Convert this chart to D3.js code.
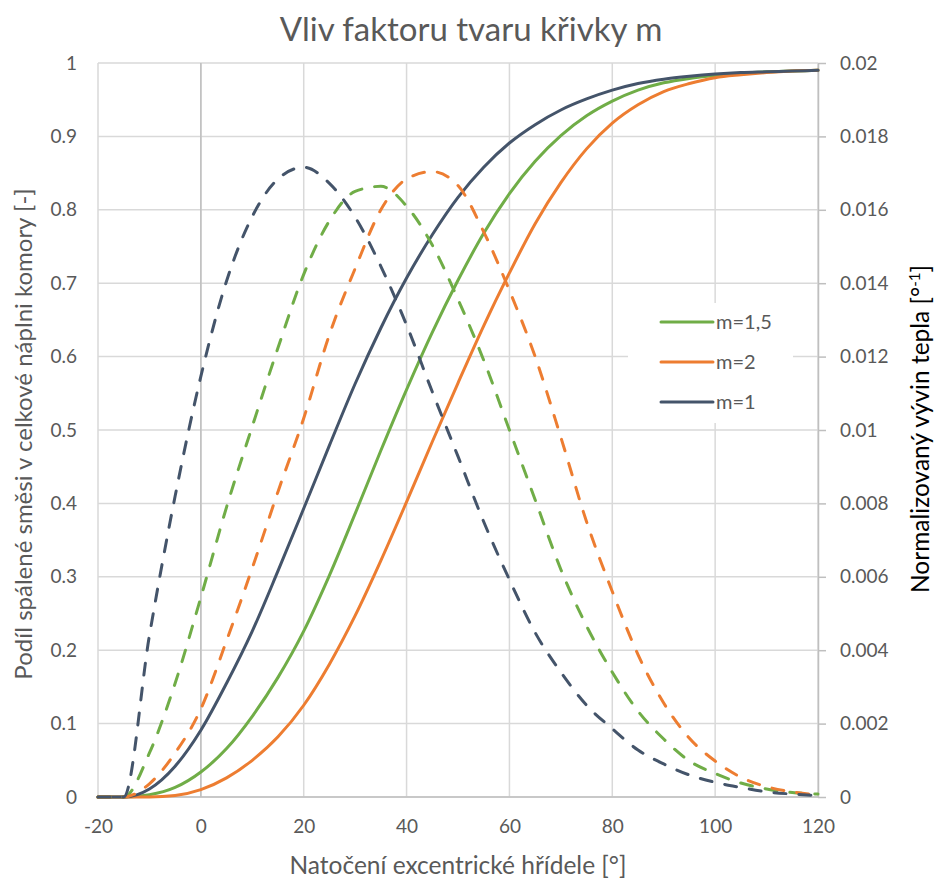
<!DOCTYPE html>
<html>
<head>
<meta charset="utf-8">
<script src="https://cdn.jsdelivr.net/npm/d3@7"></script>
<style>
  html, body { margin: 0; padding: 0; background: #fff; }
  svg { display: block; font-family: Lato, "Open Sans", sans-serif; }
</style>
</head>
<body>
<svg id="chart" width="936" height="882"></svg>
<script>
// ---------- DATA ----------
const angles = [-20,-15,-10,-5,0,5,10,15,20,25,30,35,40,45,50,55,60,65,70,75,80,85,90,95,100,105,110,115,120];

// burned fraction [-] (left axis)
const m15Solid = [0,0,0.003,0.013,0.034,0.066,0.110,0.163,0.226,0.302,0.386,0.472,0.555,0.633,0.704,0.768,0.822,0.866,0.901,0.928,0.948,0.963,0.973,0.979,0.983,0.986,0.988,0.989,0.990];
const m2Solid  = [0,0,0,0.002,0.010,0.026,0.050,0.082,0.125,0.181,0.247,0.322,0.402,0.484,0.564,0.642,0.714,0.781,0.837,0.883,0.918,0.943,0.961,0.972,0.980,0.984,0.987,0.989,0.990];
const m1Solid  = [0,0,0.011,0.042,0.091,0.155,0.226,0.308,0.393,0.479,0.563,0.639,0.707,0.766,0.817,0.858,0.891,0.916,0.936,0.951,0.963,0.972,0.978,0.982,0.985,0.987,0.988,0.989,0.990];

// normalized heat release [°^-1] (right axis)
const m15Dash = [0,0,0.0012,0.0031,0.00544,0.0079,0.0101,0.01224,0.01424,0.0157,0.0165,0.01664,0.0161,0.01504,0.01356,0.0119,0.0100,0.0081,0.0062,0.00466,0.0034,0.00234,0.00158,0.00098,0.00064,0.00038,0.00022,0.00012,0.00008];
const m2Dash  = [0,0,0.00036,0.0012,0.0024,0.00426,0.00624,0.00832,0.01032,0.0126,0.0144,0.016,0.01684,0.01704,0.01666,0.0154,0.0138,0.012,0.0098,0.0075,0.0056,0.00388,0.00256,0.0016,0.00098,0.00054,0.00028,0.00014,0.00006];
const m1Dash  = [0,0,0.0044,0.0082,0.01146,0.01406,0.01582,0.01684,0.01716,0.01672,0.0158,0.01446,0.01286,0.01104,0.00928,0.0075,0.00592,0.00448,0.0034,0.0025,0.00186,0.00128,0.0009,0.0006,0.0004,0.00026,0.00014,0.00008,0.00004];

const xTicks = [-20,0,20,40,60,80,100,120];
const xTickLabels = ["-20","0","20","40","60","80","100","120"];
const yLeftTicks = [0,0.1,0.2,0.3,0.4,0.5,0.6,0.7,0.8,0.9,1];
const yLeftLabels = ["0","0.1","0.2","0.3","0.4","0.5","0.6","0.7","0.8","0.9","1"];
const yRightTicks = [0,0.002,0.004,0.006,0.008,0.01,0.012,0.014,0.016,0.018,0.02];
const yRightLabels = ["0","0.002","0.004","0.006","0.008","0.01","0.012","0.014","0.016","0.018","0.02"];

const seriesNames = ["m=1,5","m=2","m=1"];
const seriesColors = ["#70AD47","#ED7D31","#44546A"];

const title = "Vliv faktoru tvaru křivky m";
const xTitle = "Natočení excentrické hřídele [°]";
const yLeftTitle = "Podíl spálené směsi v celkové náplni komory [-]";
// ---------- CHART ----------
const svg = d3.select("#chart");
const L = 98, R = 818, T = 63, B = 797;

const x = d3.scaleLinear().domain([-20,120]).range([L,R]);
const yL = d3.scaleLinear().domain([0,1]).range([B,T]);
const yR = d3.scaleLinear().domain([0,0.02]).range([B,T]);

const gridColor = "#D9D9D9", axisColor = "#BFBFBF", textColor = "#595959";
const tickFont = 19;

// gridlines
svg.append("g").selectAll("line").data(yLeftTicks).join("line")
  .attr("x1", L).attr("x2", R).attr("y1", d => yL(d)).attr("y2", d => yL(d))
  .attr("stroke", gridColor).attr("stroke-width", 1.5);
svg.append("g").selectAll("line").data(xTicks).join("line")
  .attr("x1", d => x(d)).attr("x2", d => x(d)).attr("y1", T).attr("y2", B)
  .attr("stroke", gridColor).attr("stroke-width", 1.5);

// axis lines: vertical at x=0, bottom at y=0
svg.append("line").attr("x1", x(0)).attr("x2", x(0)).attr("y1", T).attr("y2", B)
  .attr("stroke", axisColor).attr("stroke-width", 1.5);
svg.append("line").attr("x1", L).attr("x2", R).attr("y1", yL(0)).attr("y2", yL(0))
  .attr("stroke", axisColor).attr("stroke-width", 1.5);

// right axis with outside ticks
const rightAxis = d3.axisRight(yR).tickValues(yRightTicks)
  .tickFormat((d,i) => yRightLabels[i]).tickSizeOuter(0).tickSizeInner(8).tickPadding(14);
const gR = svg.append("g").attr("transform", `translate(${R},0)`).call(rightAxis);
gR.select(".domain").attr("stroke", axisColor).attr("stroke-width", 1.5);
gR.selectAll(".tick line").attr("stroke", axisColor).attr("stroke-width", 1.5);
gR.selectAll(".tick text").attr("fill", textColor).attr("font-size", tickFont).attr("font-family", "Lato, sans-serif");

// left axis labels (no line)
const leftAxis = d3.axisLeft(yL).tickValues(yLeftTicks)
  .tickFormat((d,i) => yLeftLabels[i]).tickSize(0).tickPadding(21);
const gL = svg.append("g").attr("transform", `translate(${L},0)`).call(leftAxis);
gL.select(".domain").remove();
gL.selectAll(".tick text").attr("fill", textColor).attr("font-size", tickFont).attr("font-family", "Lato, sans-serif");

// bottom axis labels
const bottomAxis = d3.axisBottom(x).tickValues(xTicks)
  .tickFormat((d,i) => xTickLabels[i]).tickSize(0).tickPadding(23);
const gB = svg.append("g").attr("transform", `translate(0,${B})`).call(bottomAxis);
gB.select(".domain").remove();
gB.selectAll(".tick text").attr("fill", textColor).attr("font-size", tickFont).attr("font-family", "Lato, sans-serif");

// lines
const pts = arr => angles.map((a,i) => [a, arr[i]]);
const lineL = d3.line().x(d => x(d[0])).y(d => yL(d[1])).curve(d3.curveMonotoneX);
const lineR = d3.line().x(d => x(d[0])).y(d => yR(d[1])).curve(d3.curveMonotoneX);

const solids = [m15Solid, m2Solid, m1Solid];
const dashes = [m15Dash, m2Dash, m1Dash];

solids.forEach((s,i) => {
  svg.append("path").attr("d", lineL(pts(s))).attr("fill","none")
    .attr("stroke", seriesColors[i]).attr("stroke-width", 3)
    .attr("stroke-linejoin","round").attr("stroke-linecap","round");
});
dashes.forEach((s,i) => {
  svg.append("path").attr("d", lineR(pts(s))).attr("fill","none")
    .attr("stroke", seriesColors[i]).attr("stroke-width", 3)
    .attr("stroke-dasharray","12,13")
    .attr("stroke-linejoin","round").attr("stroke-linecap","round");
});

// legend
svg.append("rect").attr("x", 628).attr("y", 303).attr("width", 165).attr("height", 120).attr("fill", "#fff");
const legY = [322, 362, 402];
seriesNames.forEach((n,i) => {
  svg.append("line").attr("x1", 661).attr("x2", 713).attr("y1", legY[i]).attr("y2", legY[i])
    .attr("stroke", seriesColors[i]).attr("stroke-width", 3).attr("stroke-linecap","round");
  svg.append("text").attr("x", 716).attr("y", legY[i] + 7).text(n)
    .attr("fill", textColor).attr("font-size", 20);
});

// titles
svg.append("text").attr("x", 471).attr("y", 41).attr("text-anchor","middle")
  .attr("font-size", 33).attr("fill", textColor).text(title);
svg.append("text").attr("x", 458).attr("y", 874).attr("text-anchor","middle")
  .attr("font-size", 24.5).attr("fill", textColor).text(xTitle);
svg.append("text").attr("transform", "translate(32,434) rotate(-90)").attr("text-anchor","middle")
  .attr("font-size", 24).attr("fill", textColor).text(yLeftTitle);
const rt = svg.append("text").attr("transform", "translate(929,429) rotate(-90)").attr("text-anchor","middle")
  .attr("font-size", 24.5).attr("fill", "#000");
rt.append("tspan").text("Normalizovaný vývin tepla [°");
rt.append("tspan").attr("font-size", 15).attr("dy", -9).text("-1");
rt.append("tspan").attr("dy", 9).text("]");
</script>
</body>
</html>
